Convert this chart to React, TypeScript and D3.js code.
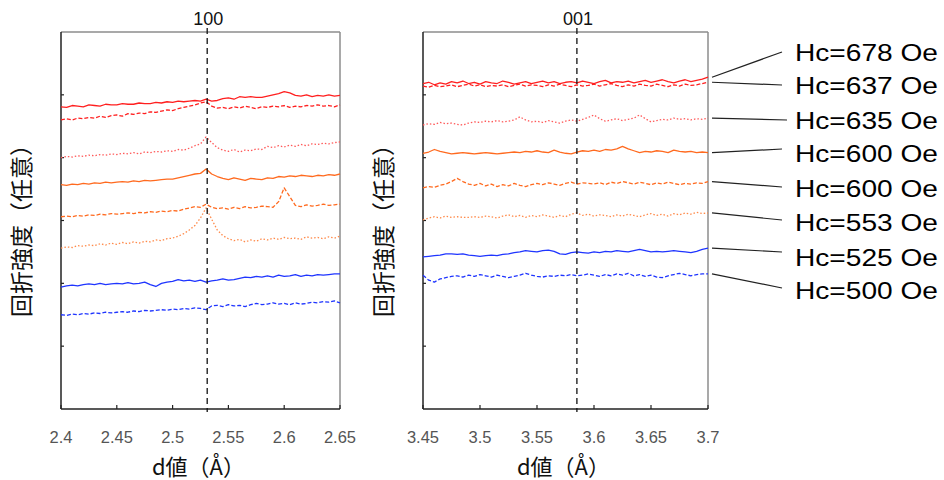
import React from 'react';
import * as d3 from 'd3';

// d-spacing grid (Å)
const dLeft = [
  2.400, 2.405, 2.410, 2.415, 2.420, 2.425, 2.430, 2.435, 2.440, 2.445,
  2.450, 2.455, 2.460, 2.465, 2.470, 2.475, 2.480, 2.485, 2.490, 2.495,
  2.500, 2.505, 2.510, 2.515, 2.520, 2.525, 2.530, 2.535, 2.540, 2.545,
  2.550, 2.555, 2.560, 2.565, 2.570, 2.575, 2.580, 2.585, 2.590, 2.595,
  2.600, 2.605, 2.610, 2.615, 2.620, 2.625, 2.630, 2.635, 2.640, 2.645, 2.650,
];
const dRight = [
  3.450, 3.455, 3.460, 3.465, 3.470, 3.475, 3.480, 3.485, 3.490, 3.495,
  3.500, 3.505, 3.510, 3.515, 3.520, 3.525, 3.530, 3.535, 3.540, 3.545,
  3.550, 3.555, 3.560, 3.565, 3.570, 3.575, 3.580, 3.585, 3.590, 3.595,
  3.600, 3.605, 3.610, 3.615, 3.620, 3.625, 3.630, 3.635, 3.640, 3.645,
  3.650, 3.655, 3.660, 3.665, 3.670, 3.675, 3.680, 3.685, 3.690, 3.695, 3.700,
];

// 100 reflection, intensity (arb., offset)
const l678 = [4.81, 4.80, 4.83, 4.82, 4.81, 4.84, 4.83, 4.82, 4.85, 4.84, 4.84, 4.86, 4.85, 4.85, 4.87, 4.86, 4.86, 4.88, 4.87, 4.89, 4.88, 4.90, 4.89, 4.90, 4.91, 4.90, 4.93, 4.90, 4.91, 4.94, 4.95, 4.93, 4.97, 4.96, 4.97, 4.96, 4.96, 4.98, 5.00, 5.02, 5.05, 5.03, 4.99, 4.98, 5.00, 4.97, 4.99, 4.98, 5.00, 4.98, 4.99];
const l637 = [4.60, 4.62, 4.60, 4.63, 4.62, 4.64, 4.63, 4.66, 4.64, 4.67, 4.68, 4.66, 4.70, 4.69, 4.71, 4.70, 4.73, 4.72, 4.74, 4.76, 4.75, 4.78, 4.80, 4.82, 4.84, 4.87, 4.89, 4.82, 4.79, 4.80, 4.78, 4.81, 4.79, 4.82, 4.80, 4.78, 4.81, 4.80, 4.82, 4.81, 4.83, 4.80, 4.82, 4.81, 4.83, 4.82, 4.84, 4.82, 4.83, 4.81, 4.84];
const l635 = [4.00, 4.02, 4.01, 4.03, 4.02, 4.04, 4.03, 4.05, 4.04, 4.06, 4.05, 4.07, 4.06, 4.08, 4.06, 4.09, 4.08, 4.10, 4.09, 4.11, 4.10, 4.13, 4.12, 4.15, 4.19, 4.22, 4.33, 4.24, 4.16, 4.12, 4.10, 4.13, 4.09, 4.12, 4.11, 4.14, 4.13, 4.18, 4.16, 4.19, 4.17, 4.20, 4.18, 4.21, 4.19, 4.22, 4.21, 4.23, 4.22, 4.24, 4.25];
const l600a = [3.57, 3.56, 3.58, 3.57, 3.59, 3.58, 3.60, 3.59, 3.61, 3.60, 3.61, 3.62, 3.61, 3.63, 3.62, 3.64, 3.63, 3.64, 3.65, 3.66, 3.66, 3.68, 3.70, 3.72, 3.74, 3.75, 3.82, 3.74, 3.70, 3.67, 3.65, 3.68, 3.66, 3.64, 3.67, 3.66, 3.65, 3.68, 3.67, 3.70, 3.69, 3.71, 3.70, 3.72, 3.71, 3.70, 3.72, 3.71, 3.73, 3.72, 3.74];
const l600b = [3.06, 3.07, 3.06, 3.08, 3.07, 3.09, 3.08, 3.10, 3.09, 3.11, 3.10, 3.11, 3.12, 3.11, 3.13, 3.12, 3.14, 3.13, 3.15, 3.14, 3.16, 3.15, 3.18, 3.20, 3.22, 3.21, 3.26, 3.21, 3.19, 3.20, 3.18, 3.21, 3.19, 3.22, 3.20, 3.21, 3.23, 3.22, 3.21, 3.30, 3.52, 3.38, 3.24, 3.22, 3.25, 3.23, 3.24, 3.26, 3.24, 3.25, 3.26];
const l553 = [2.56, 2.58, 2.57, 2.60, 2.59, 2.61, 2.60, 2.63, 2.61, 2.64, 2.62, 2.65, 2.63, 2.66, 2.64, 2.67, 2.66, 2.69, 2.68, 2.71, 2.72, 2.75, 2.79, 2.85, 2.92, 3.04, 3.20, 3.02, 2.85, 2.76, 2.71, 2.68, 2.70, 2.66, 2.69, 2.67, 2.71, 2.69, 2.72, 2.70, 2.73, 2.71, 2.72, 2.70, 2.74, 2.72, 2.73, 2.71, 2.74, 2.72, 2.75];
const l525 = [1.94, 1.96, 1.97, 1.96, 1.98, 1.99, 1.98, 2.00, 1.98, 1.99, 2.00, 1.99, 2.01, 1.99, 2.00, 2.02, 1.98, 1.95, 2.00, 2.02, 2.03, 2.06, 2.04, 2.05, 2.03, 2.05, 2.02, 2.04, 2.05, 2.07, 2.05, 2.06, 2.08, 2.10, 2.09, 2.11, 2.10, 2.12, 2.10, 2.13, 2.11, 2.12, 2.14, 2.11, 2.13, 2.12, 2.14, 2.13, 2.14, 2.15, 2.15];
const l500 = [1.50, 1.49, 1.51, 1.50, 1.52, 1.51, 1.53, 1.52, 1.54, 1.53, 1.54, 1.55, 1.54, 1.56, 1.55, 1.57, 1.56, 1.57, 1.58, 1.57, 1.59, 1.58, 1.60, 1.59, 1.61, 1.60, 1.58, 1.64, 1.65, 1.63, 1.66, 1.64, 1.65, 1.63, 1.66, 1.68, 1.66, 1.67, 1.69, 1.67, 1.68, 1.66, 1.69, 1.67, 1.68, 1.70, 1.69, 1.71, 1.70, 1.72, 1.69];

// 001 reflection
const r678 = [5.18, 5.20, 5.16, 5.19, 5.17, 5.21, 5.19, 5.22, 5.18, 5.20, 5.17, 5.21, 5.19, 5.18, 5.22, 5.20, 5.17, 5.19, 5.21, 5.18, 5.20, 5.22, 5.19, 5.21, 5.18, 5.20, 5.21, 5.19, 5.22, 5.20, 5.18, 5.21, 5.23, 5.19, 5.21, 5.20, 5.22, 5.19, 5.21, 5.23, 5.20, 5.22, 5.24, 5.21, 5.19, 5.22, 5.24, 5.21, 5.23, 5.25, 5.28];
const r637 = [5.14, 5.12, 5.15, 5.13, 5.14, 5.16, 5.13, 5.15, 5.17, 5.14, 5.16, 5.13, 5.15, 5.14, 5.16, 5.13, 5.15, 5.17, 5.14, 5.16, 5.15, 5.13, 5.16, 5.14, 5.17, 5.15, 5.13, 5.16, 5.14, 5.15, 5.17, 5.14, 5.16, 5.18, 5.15, 5.13, 5.16, 5.14, 5.17, 5.15, 5.14, 5.17, 5.15, 5.13, 5.16, 5.14, 5.17, 5.15, 5.16, 5.18, 5.20];
const r635 = [4.52, 4.54, 4.53, 4.56, 4.54, 4.55, 4.53, 4.52, 4.55, 4.57, 4.56, 4.58, 4.57, 4.59, 4.57, 4.58, 4.60, 4.65, 4.60, 4.57, 4.58, 4.56, 4.59, 4.57, 4.55, 4.58, 4.60, 4.58, 4.61, 4.64, 4.68, 4.62, 4.58, 4.60, 4.62, 4.59, 4.61, 4.63, 4.68, 4.62, 4.57, 4.59, 4.61, 4.60, 4.63, 4.61, 4.62, 4.60, 4.62, 4.61, 4.63];
const r600a = [4.07, 4.09, 4.13, 4.10, 4.08, 4.06, 4.07, 4.08, 4.07, 4.06, 4.07, 4.08, 4.07, 4.06, 4.07, 4.08, 4.09, 4.08, 4.10, 4.09, 4.11, 4.09, 4.08, 4.12, 4.09, 4.07, 4.06, 4.09, 4.11, 4.10, 4.12, 4.10, 4.13, 4.12, 4.14, 4.18, 4.14, 4.11, 4.08, 4.10, 4.09, 4.11, 4.10, 4.08, 4.12, 4.10, 4.09, 4.10, 4.08, 4.09, 4.08];
const r600b = [3.52, 3.54, 3.53, 3.56, 3.58, 3.62, 3.67, 3.62, 3.58, 3.56, 3.59, 3.55, 3.58, 3.54, 3.57, 3.55, 3.59, 3.56, 3.54, 3.57, 3.59, 3.57, 3.60, 3.58, 3.56, 3.59, 3.61, 3.58, 3.60, 3.59, 3.58, 3.60, 3.57, 3.61, 3.59, 3.62, 3.60, 3.58, 3.61, 3.59, 3.57, 3.60, 3.58, 3.61, 3.59, 3.57, 3.59, 3.58, 3.60, 3.59, 3.62];
const r553 = [3.01, 3.04, 3.06, 3.04, 3.07, 3.05, 3.06, 3.05, 3.05, 3.06, 3.05, 3.07, 3.06, 3.04, 3.07, 3.09, 3.06, 3.08, 3.05, 3.08, 3.06, 3.09, 3.07, 3.05, 3.08, 3.06, 3.10, 3.12, 3.08, 3.10, 3.07, 3.09, 3.08, 3.06, 3.09, 3.07, 3.10, 3.08, 3.06, 3.09, 3.11, 3.08, 3.10, 3.07, 3.11, 3.09, 3.12, 3.10, 3.13, 3.11, 3.12];
const r525 = [2.42, 2.43, 2.44, 2.45, 2.47, 2.47, 2.46, 2.47, 2.45, 2.44, 2.43, 2.44, 2.45, 2.44, 2.46, 2.47, 2.49, 2.50, 2.52, 2.51, 2.50, 2.52, 2.53, 2.51, 2.47, 2.46, 2.49, 2.50, 2.49, 2.48, 2.50, 2.49, 2.51, 2.50, 2.52, 2.51, 2.50, 2.52, 2.54, 2.52, 2.50, 2.51, 2.50, 2.51, 2.52, 2.51, 2.50, 2.49, 2.51, 2.54, 2.56];
const r500 = [2.13, 2.05, 2.02, 2.07, 2.09, 2.11, 2.12, 2.10, 2.13, 2.11, 2.14, 2.12, 2.10, 2.13, 2.11, 2.09, 2.11, 2.13, 2.16, 2.13, 2.11, 2.10, 2.12, 2.11, 2.13, 2.12, 2.14, 2.12, 2.13, 2.15, 2.13, 2.11, 2.14, 2.12, 2.15, 2.13, 2.16, 2.12, 2.14, 2.11, 2.13, 2.10, 2.09, 2.12, 2.14, 2.16, 2.14, 2.12, 2.14, 2.15, 2.15];

const hcLabels = ['Hc=678 Oe', 'Hc=637 Oe', 'Hc=635 Oe', 'Hc=600 Oe', 'Hc=600 Oe', 'Hc=553 Oe', 'Hc=525 Oe', 'Hc=500 Oe'];
const seriesColors = ['#ff1f1f', '#ff1f1f', '#ff5a5a', '#ff6a1f', '#ff6a1f', '#ff8a4a', '#1f35ff', '#1f35ff'];
const seriesDash = ['none', '4,2', '1.5,2', 'none', '4,2', '1.5,2', 'none', '4,2'];
const leftSeries = [l678, l637, l635, l600a, l600b, l553, l525, l500];
const rightSeries = [r678, r637, r635, r600a, r600b, r553, r525, r500];

const leftTicks = ['2.4', '2.45', '2.5', '2.55', '2.6', '2.65'];
const rightTicks = ['3.45', '3.5', '3.55', '3.6', '3.65', '3.7'];
const yTicks = [1, 2, 3, 4, 5];
const leftPeak = 2.531;
const rightPeak = 3.585;

const LATIN = '"Liberation Sans", Arial, sans-serif';
const CJK = '"Noto Sans CJK JP", "Liberation Sans", sans-serif';

const top = 32;
const bottom = 409;
const y = d3.scaleLinear().domain([0, 6]).range([bottom, top]);

type PanelProps = {
  x0: number;
  x1: number;
  xs: number[];
  series: number[][];
  ticks: string[];
  peak: number;
  title: string;
};

const Panel = ({ x0, x1, xs, series, ticks, peak, title }: PanelProps) => {
  const x = d3.scaleLinear().domain([+ticks[0], +ticks[ticks.length - 1]]).range([x0, x1]);
  const line = d3.line<number>().x((_, i) => x(xs[i])).y(d => y(d));
  const px = x(peak);
  return (
    <g>
      {/* frame */}
      <line x1={x0} x2={x1} y1={top} y2={top} stroke="#8c8c8c" strokeWidth={1.5} />
      <line x1={x1} x2={x1} y1={top} y2={bottom} stroke="#8c8c8c" strokeWidth={1.5} />
      <line x1={x0} x2={x0} y1={top} y2={bottom} stroke="#222" strokeWidth={1.5} />
      <line x1={x0} x2={x1} y1={bottom} y2={bottom} stroke="#222" strokeWidth={1.5} />
      {yTicks.map(t => (
        <line key={t} x1={x0} x2={x0 + 3} y1={y(t)} y2={y(t)} stroke="#222" strokeWidth={1.2} />
      ))}
      {ticks.map(t => (
        <g key={t}>
          <line x1={x(+t)} x2={x(+t)} y1={bottom} y2={bottom - 4} stroke="#222" strokeWidth={1.2} />
          <text x={x(+t)} y={443} textAnchor="middle" fontSize={16.5} fill="#555" fontFamily={LATIN}>{t}</text>
        </g>
      ))}
      {series.map((s, i) => (
        <path key={i} d={line(s) || ''} fill="none" stroke={seriesColors[i]}
          strokeWidth={1.3} strokeDasharray={seriesDash[i]} strokeLinejoin="round" />
      ))}
      <line x1={px} x2={px} y1={28} y2={bottom + 3} stroke="#111" strokeWidth={1.3} strokeDasharray="6,4" />
      <text x={px + 1} y={25} textAnchor="middle" fontSize={18} fontFamily={LATIN} fill="#111">{title}</text>
      <text x={(x0 + x1) / 2 - 2} y={475} textAnchor="middle" fontSize={22} fontFamily={CJK} fill="#111">d値（Å）</text>
      <text transform={`translate(${x0 - 31},225) rotate(-90)`} textAnchor="middle" fontSize={23}
        fontFamily={CJK} fill="#111">回折強度（任意）</text>
    </g>
  );
};

const labelY = [52, 85, 120, 153, 188, 222, 257, 290];
const leaderY = [52, 85, 120, 149, 187, 220, 252, 288];

const App = () => {
  const xr = d3.scaleLinear().domain([3.45, 3.7]).range([423, 708]);
  return (
    <svg width={944} height={480} style={{ position: 'absolute', left: 0, top: 0, background: '#fff' }}>
      <Panel x0={61} x1={340} xs={dLeft} series={leftSeries} ticks={leftTicks} peak={leftPeak} title="100" />
      <Panel x0={423} x1={708} xs={dRight} series={rightSeries} ticks={rightTicks} peak={rightPeak} title="001" />
      {hcLabels.map((lab, i) => {
        const s = rightSeries[i];
        const ex = xr(dRight[dRight.length - 1]) + 4;
        const ey = y(s[s.length - 1]);
        return (
          <g key={i}>
            <line x1={i === 2 ? 787 : 782} y1={leaderY[i]} x2={ex} y2={ey} stroke="#222" strokeWidth={1.2} />
            <text x={795} y={labelY[i] + 8.5} fontSize={24} fontFamily={LATIN} fill="#000"
              textLength={143} lengthAdjust="spacingAndGlyphs">{lab}</text>
          </g>
        );
      })}
    </svg>
  );
};

export default App;
